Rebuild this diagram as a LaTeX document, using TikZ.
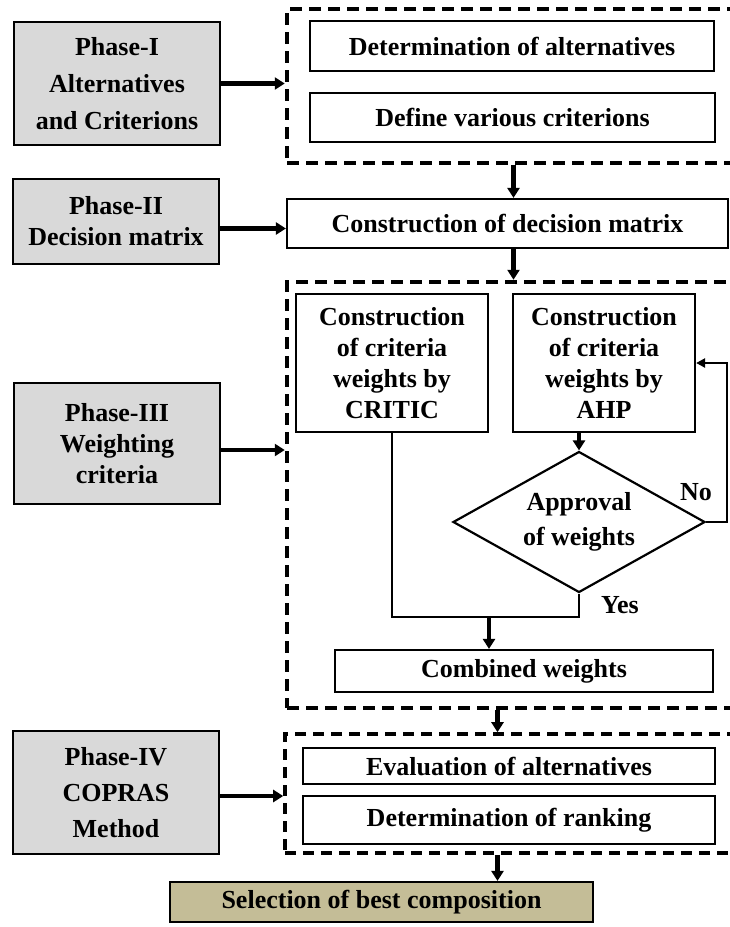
\documentclass[tikz,border=0pt]{standalone}
\usepackage{fontspec}
\setmainfont{Liberation Serif}
\usetikzlibrary{arrows.meta,shapes.geometric}
\definecolor{phasegray}{RGB}{217,217,217}
\definecolor{seltan}{RGB}{196,189,151}
\begin{document}
\begin{tikzpicture}[x=1pt,y=-1pt,
  txt/.style={font=\bfseries\fontsize{26}{31}\selectfont, align=center, inner sep=0pt},
  phase/.style={txt, draw, line width=2.2pt, fill=phasegray, minimum width=206pt},
  box/.style={txt, draw, line width=2.2pt, fill=white},
  dbox/.style={draw, line width=4.5pt, dash pattern=on 12pt off 7pt, inner sep=0pt},
  arr/.style={line width=4.5pt, -{Triangle[length=10pt,width=12pt]}},
  ln/.style={line width=2.4pt},
  tarr/.style={line width=2.6pt, -{Triangle[length=9pt,width=9pt]}}]
\useasboundingbox (0,0) rectangle (730,927);
\clip (0,0) rectangle (730,927);

% phase boxes
\node[phase, minimum height=123pt, font=\bfseries\fontsize{26}{37}\selectfont] (p1) at (117,83.5) {Phase-I\\Alternatives\\and Criterions};
\node[phase, minimum height=85pt] (p2) at (116,221.5) {Phase-II\\Decision matrix};
\node[phase, minimum height=121pt] (p3) at (117,443.5) {Phase-III\\Weighting\\criteria};
\node[phase, minimum height=123pt, font=\bfseries\fontsize{26}{36}\selectfont] (p4) at (116,792.5) {Phase-IV\\COPRAS\\Method};

% group 1
\node[dbox, minimum width=453pt, minimum height=154pt] (db1) at (513.5,86) {};
\node[box, minimum width=404pt, minimum height=50pt] (det) at (512,46) {Determination of alternatives};
\node[box, minimum width=405pt, minimum height=49pt] (def) at (512.5,117.5) {Define various criterions};

% decision matrix
\node[box, minimum width=441pt, minimum height=49pt] (dec) at (507.5,223.5) {Construction of decision matrix};

% group 2
\node[dbox, minimum width=453pt, minimum height=426pt] (db2) at (513.5,495) {};
\node[box, minimum width=192pt, minimum height=138pt] (critic) at (392,363) {Construction\\of criteria\\weights by\\CRITIC};
\node[box, minimum width=182pt, minimum height=138pt] (ahp) at (604,363) {Construction\\of criteria\\weights by\\AHP};
\node[diamond, draw, line width=2.2pt, fill=white, minimum width=252pt, minimum height=141pt, inner sep=0pt] (dia) at (579,522) {};
\node[txt, font=\bfseries\fontsize{26}{35}\selectfont] (diat) at (dia.center) {Approval\\of weights};
\node[box, minimum width=378pt, minimum height=42pt] (comb) at (524,671) {Combined weights};
\node[txt] (no) at (696,492) {No};
\node[txt] (yes) at (620,605) {Yes};

% group 3
\node[dbox, line width=3.6pt, dash pattern=on 11pt off 7pt, minimum width=455pt, minimum height=119pt] (db3) at (512.5,793.5) {};
\node[box, minimum width=412pt, minimum height=36pt] (eval) at (509,766) {Evaluation of alternatives};
\node[box, minimum width=412pt, minimum height=48pt] (rank) at (509,820) {Determination of ranking};

% final
\node[box, fill=seltan, minimum width=423pt, minimum height=40pt] (sel) at (381.5,902) {Selection of best composition};

% connectors
\draw[arr] (p1.east) -- (p1.east -| db1.west);
\draw[arr] (db1.south) -- (db1.south |- dec.north);
\coordinate (p2o) at ([yshift=-7pt]p2.east);
\draw[arr] (p2o) -- (p2o -| dec.west);
\draw[arr] (db2.north |- dec.south) -- (db2.north);
\coordinate (p3o) at ([yshift=-6.5pt]p3.east);
\draw[arr] (p3o) -- (p3o -| db2.west);
\draw[arr] (dia.north |- ahp.south) -- (dia.north);
\coordinate (loop) at (727,363);
\draw[tarr] (dia.east) -| (loop) -- (ahp.east);
\coordinate (jn) at (489,617);
\draw[ln] (critic.south) |- (jn) -| (dia.south);
\draw[arr] (jn) -- (jn |- comb.north);
\coordinate (d2o) at ([xshift=-16pt]db2.south);
\draw[arr] (d2o) -- (d2o |- db3.north);
\coordinate (p4o) at ([yshift=-3.5pt]p4.east);
\draw[arr] (p4o) -- (p4o -| db3.west);
\coordinate (d3o) at (d2o |- db3.south);
\draw[arr] (d3o) -- (d3o |- sel.north);
\end{tikzpicture}
\end{document}
